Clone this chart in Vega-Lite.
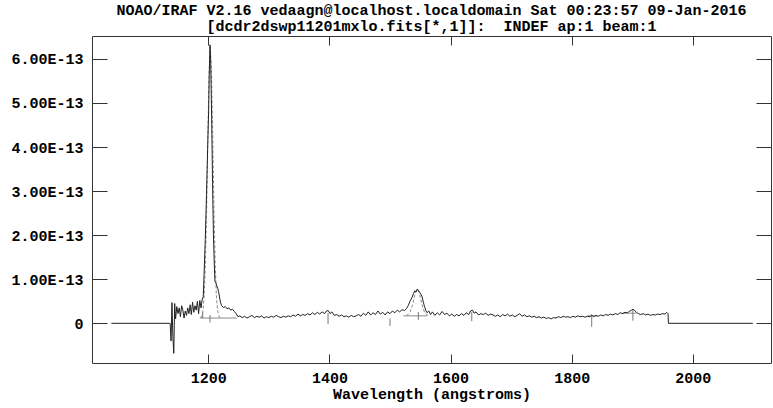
{
  "$schema": "https://vega.github.io/schema/vega-lite/v6.json",
  "width": 679,
  "height": 327,
  "autosize": {"type": "none"},
  "padding": {"left": 92, "top": 36, "right": 2, "bottom": 45},
  "title": {
    "text": ["NOAO/IRAF V2.16 vedaagn@localhost.localdomain Sat 00:23:57 09-Jan-2016", "[dcdr2dswp11201mxlo.fits[*,1]]: \u00a0INDEF ap:1 beam:1"],
    "anchor": "middle",
    "font": "Liberation Mono",
    "fontSize": 15,
    "fontWeight": "bold",
    "color": "#000",
    "lineHeight": 16,
    "offset": 2
  },
  "datasets": {
    "spec": [
      {"wl": 1040, "flux": 0}, {"wl": 1136, "flux": 0}, {"wl": 1137, "flux": 0},
      {"wl": 1138.5, "flux": -0.4}, {"wl": 1140, "flux": 0.47}, {"wl": 1141.5, "flux": -0.3}, {"wl": 1143, "flux": -0.68},
      {"wl": 1144.5, "flux": 0.45}, {"wl": 1146, "flux": 0.1}, {"wl": 1148, "flux": 0.38}, {"wl": 1150, "flux": 0.22},
      {"wl": 1152, "flux": 0.35}, {"wl": 1154, "flux": 0.15}, {"wl": 1156, "flux": 0.4}, {"wl": 1158, "flux": 0.3},
      {"wl": 1160, "flux": 0.12}, {"wl": 1162, "flux": 0.28}, {"wl": 1164, "flux": 0.18}, {"wl": 1166, "flux": 0.35},
      {"wl": 1168, "flux": 0.22}, {"wl": 1170, "flux": 0.42}, {"wl": 1172, "flux": 0.2}, {"wl": 1174, "flux": 0.48},
      {"wl": 1176, "flux": 0.25}, {"wl": 1178, "flux": 0.4}, {"wl": 1180, "flux": 0.3}, {"wl": 1182, "flux": 0.5},
      {"wl": 1184, "flux": 0.22}, {"wl": 1186, "flux": 0.52}, {"wl": 1188, "flux": 0.35}, {"wl": 1190, "flux": 0.55},
      {"wl": 1191.7, "flux": 0.6}, {"wl": 1193, "flux": 1.1}, {"wl": 1195, "flux": 1.9}, {"wl": 1197, "flux": 2.9},
      {"wl": 1199, "flux": 4.0}, {"wl": 1200.5, "flux": 4.8}, {"wl": 1201.5, "flux": 5.6}, {"wl": 1202.8, "flux": 6.32},
      {"wl": 1204, "flux": 5.9}, {"wl": 1205.5, "flux": 4.7}, {"wl": 1207, "flux": 3.2}, {"wl": 1208.5, "flux": 2.0},
      {"wl": 1210, "flux": 1.3}, {"wl": 1211, "flux": 0.95}, {"wl": 1212.5, "flux": 0.92}, {"wl": 1214, "flux": 0.85},
      {"wl": 1215.5, "flux": 0.8}, {"wl": 1217, "flux": 0.72}, {"wl": 1218.5, "flux": 0.6}, {"wl": 1220, "flux": 0.48},
      {"wl": 1222, "flux": 0.4}, {"wl": 1225, "flux": 0.36}, {"wl": 1228, "flux": 0.38}, {"wl": 1231, "flux": 0.33},
      {"wl": 1234, "flux": 0.35}, {"wl": 1237, "flux": 0.3}, {"wl": 1240, "flux": 0.32}, {"wl": 1243, "flux": 0.27},
      {"wl": 1246, "flux": 0.22}, {"wl": 1249, "flux": 0.15},
      {"wl": 1252, "flux": 0.17}, {"wl": 1256, "flux": 0.13}, {"wl": 1260, "flux": 0.16}, {"wl": 1264, "flux": 0.12},
      {"wl": 1268, "flux": 0.15}, {"wl": 1272, "flux": 0.18}, {"wl": 1276, "flux": 0.13}, {"wl": 1280, "flux": 0.16},
      {"wl": 1284, "flux": 0.14}, {"wl": 1288, "flux": 0.17}, {"wl": 1292, "flux": 0.12}, {"wl": 1296, "flux": 0.15},
      {"wl": 1300, "flux": 0.13}, {"wl": 1304, "flux": 0.16}, {"wl": 1308, "flux": 0.14}, {"wl": 1312, "flux": 0.18},
      {"wl": 1316, "flux": 0.15}, {"wl": 1320, "flux": 0.13}, {"wl": 1324, "flux": 0.16}, {"wl": 1328, "flux": 0.14},
      {"wl": 1332, "flux": 0.17}, {"wl": 1336, "flux": 0.15}, {"wl": 1340, "flux": 0.19}, {"wl": 1344, "flux": 0.16},
      {"wl": 1348, "flux": 0.21}, {"wl": 1352, "flux": 0.17}, {"wl": 1356, "flux": 0.2}, {"wl": 1360, "flux": 0.18},
      {"wl": 1364, "flux": 0.22}, {"wl": 1368, "flux": 0.19}, {"wl": 1372, "flux": 0.24}, {"wl": 1376, "flux": 0.2},
      {"wl": 1380, "flux": 0.25}, {"wl": 1384, "flux": 0.21}, {"wl": 1388, "flux": 0.26}, {"wl": 1392, "flux": 0.22},
      {"wl": 1395, "flux": 0.28}, {"wl": 1398, "flux": 0.29}, {"wl": 1401, "flux": 0.22}, {"wl": 1404, "flux": 0.26},
      {"wl": 1408, "flux": 0.18}, {"wl": 1412, "flux": 0.2}, {"wl": 1416, "flux": 0.16}, {"wl": 1420, "flux": 0.19},
      {"wl": 1424, "flux": 0.15}, {"wl": 1428, "flux": 0.17}, {"wl": 1432, "flux": 0.14}, {"wl": 1436, "flux": 0.18},
      {"wl": 1440, "flux": 0.15}, {"wl": 1444, "flux": 0.17}, {"wl": 1448, "flux": 0.2}, {"wl": 1452, "flux": 0.16},
      {"wl": 1456, "flux": 0.23}, {"wl": 1460, "flux": 0.18}, {"wl": 1464, "flux": 0.26}, {"wl": 1468, "flux": 0.19},
      {"wl": 1472, "flux": 0.24}, {"wl": 1476, "flux": 0.2}, {"wl": 1480, "flux": 0.28}, {"wl": 1484, "flux": 0.21},
      {"wl": 1488, "flux": 0.25}, {"wl": 1492, "flux": 0.19}, {"wl": 1496, "flux": 0.26}, {"wl": 1500, "flux": 0.22},
      {"wl": 1504, "flux": 0.28}, {"wl": 1508, "flux": 0.24}, {"wl": 1512, "flux": 0.3}, {"wl": 1516, "flux": 0.26},
      {"wl": 1520, "flux": 0.31}, {"wl": 1524, "flux": 0.29}, {"wl": 1527, "flux": 0.33}, {"wl": 1530, "flux": 0.4},
      {"wl": 1533, "flux": 0.5}, {"wl": 1536, "flux": 0.58}, {"wl": 1539, "flux": 0.68}, {"wl": 1541, "flux": 0.74},
      {"wl": 1543, "flux": 0.71}, {"wl": 1545, "flux": 0.78}, {"wl": 1547, "flux": 0.75}, {"wl": 1549, "flux": 0.7},
      {"wl": 1551, "flux": 0.66}, {"wl": 1553, "flux": 0.6}, {"wl": 1555, "flux": 0.48}, {"wl": 1557, "flux": 0.38},
      {"wl": 1559, "flux": 0.3}, {"wl": 1561, "flux": 0.24}, {"wl": 1564, "flux": 0.28}, {"wl": 1567, "flux": 0.2},
      {"wl": 1570, "flux": 0.26}, {"wl": 1574, "flux": 0.18}, {"wl": 1578, "flux": 0.24}, {"wl": 1582, "flux": 0.19},
      {"wl": 1586, "flux": 0.27}, {"wl": 1590, "flux": 0.2}, {"wl": 1594, "flux": 0.23}, {"wl": 1598, "flux": 0.17},
      {"wl": 1602, "flux": 0.21}, {"wl": 1606, "flux": 0.16}, {"wl": 1610, "flux": 0.2}, {"wl": 1614, "flux": 0.17},
      {"wl": 1618, "flux": 0.22}, {"wl": 1622, "flux": 0.18}, {"wl": 1626, "flux": 0.24}, {"wl": 1630, "flux": 0.2},
      {"wl": 1633, "flux": 0.28}, {"wl": 1636, "flux": 0.3}, {"wl": 1639, "flux": 0.23}, {"wl": 1642, "flux": 0.26},
      {"wl": 1646, "flux": 0.19}, {"wl": 1650, "flux": 0.22}, {"wl": 1654, "flux": 0.2}, {"wl": 1658, "flux": 0.23},
      {"wl": 1662, "flux": 0.18}, {"wl": 1666, "flux": 0.21}, {"wl": 1670, "flux": 0.19}, {"wl": 1674, "flux": 0.16},
      {"wl": 1678, "flux": 0.19}, {"wl": 1682, "flux": 0.15}, {"wl": 1686, "flux": 0.2}, {"wl": 1690, "flux": 0.17},
      {"wl": 1694, "flux": 0.21}, {"wl": 1698, "flux": 0.16}, {"wl": 1702, "flux": 0.19}, {"wl": 1706, "flux": 0.15},
      {"wl": 1710, "flux": 0.18}, {"wl": 1714, "flux": 0.22}, {"wl": 1718, "flux": 0.16}, {"wl": 1722, "flux": 0.19},
      {"wl": 1726, "flux": 0.15}, {"wl": 1730, "flux": 0.17}, {"wl": 1734, "flux": 0.14}, {"wl": 1738, "flux": 0.16},
      {"wl": 1742, "flux": 0.13}, {"wl": 1746, "flux": 0.15}, {"wl": 1750, "flux": 0.12}, {"wl": 1754, "flux": 0.14},
      {"wl": 1758, "flux": 0.11}, {"wl": 1762, "flux": 0.13}, {"wl": 1766, "flux": 0.1}, {"wl": 1770, "flux": 0.13},
      {"wl": 1774, "flux": 0.12}, {"wl": 1778, "flux": 0.15}, {"wl": 1782, "flux": 0.13}, {"wl": 1786, "flux": 0.16},
      {"wl": 1790, "flux": 0.14}, {"wl": 1794, "flux": 0.15}, {"wl": 1798, "flux": 0.13}, {"wl": 1802, "flux": 0.16},
      {"wl": 1806, "flux": 0.14}, {"wl": 1810, "flux": 0.17}, {"wl": 1814, "flux": 0.15}, {"wl": 1818, "flux": 0.16},
      {"wl": 1822, "flux": 0.14}, {"wl": 1826, "flux": 0.16}, {"wl": 1830, "flux": 0.15}, {"wl": 1833, "flux": 0.19},
      {"wl": 1836, "flux": 0.15}, {"wl": 1840, "flux": 0.18}, {"wl": 1844, "flux": 0.16}, {"wl": 1848, "flux": 0.19},
      {"wl": 1852, "flux": 0.17}, {"wl": 1856, "flux": 0.2}, {"wl": 1860, "flux": 0.18}, {"wl": 1864, "flux": 0.21},
      {"wl": 1868, "flux": 0.19}, {"wl": 1872, "flux": 0.22}, {"wl": 1876, "flux": 0.2}, {"wl": 1880, "flux": 0.24},
      {"wl": 1884, "flux": 0.22}, {"wl": 1888, "flux": 0.25}, {"wl": 1892, "flux": 0.24}, {"wl": 1896, "flux": 0.28},
      {"wl": 1899, "flux": 0.3}, {"wl": 1901, "flux": 0.32}, {"wl": 1904, "flux": 0.29}, {"wl": 1907, "flux": 0.25},
      {"wl": 1910, "flux": 0.22}, {"wl": 1914, "flux": 0.2}, {"wl": 1918, "flux": 0.22}, {"wl": 1922, "flux": 0.19},
      {"wl": 1926, "flux": 0.21}, {"wl": 1930, "flux": 0.18}, {"wl": 1934, "flux": 0.2}, {"wl": 1938, "flux": 0.19},
      {"wl": 1942, "flux": 0.21}, {"wl": 1946, "flux": 0.2}, {"wl": 1950, "flux": 0.22}, {"wl": 1954, "flux": 0.21},
      {"wl": 1957, "flux": 0.25}, {"wl": 1959, "flux": 0.22}, {"wl": 1959.6, "flux": 0}, {"wl": 2099, "flux": 0}
    ],
    "fits": [
      {"fit": "Lya", "wl": 1187.3, "flux": 0.12}, {"fit": "Lya", "wl": 1189.3, "flux": 0.17}, {"fit": "Lya", "wl": 1191.3, "flux": 0.3},
      {"fit": "Lya", "wl": 1193.3, "flux": 0.64}, {"fit": "Lya", "wl": 1195.3, "flux": 1.39}, {"fit": "Lya", "wl": 1197.3, "flux": 2.65},
      {"fit": "Lya", "wl": 1199.3, "flux": 4.26}, {"fit": "Lya", "wl": 1201.3, "flux": 5.69}, {"fit": "Lya", "wl": 1203.3, "flux": 6.27},
      {"fit": "Lya", "wl": 1205.3, "flux": 5.69}, {"fit": "Lya", "wl": 1207.3, "flux": 4.26}, {"fit": "Lya", "wl": 1209.3, "flux": 2.65},
      {"fit": "Lya", "wl": 1211.3, "flux": 1.39}, {"fit": "Lya", "wl": 1213.3, "flux": 0.64}, {"fit": "Lya", "wl": 1215.3, "flux": 0.3},
      {"fit": "Lya", "wl": 1217.3, "flux": 0.17}, {"fit": "Lya", "wl": 1219.3, "flux": 0.12},
      {"fit": "CIV", "wl": 1527, "flux": 0.18}, {"fit": "CIV", "wl": 1530, "flux": 0.2}, {"fit": "CIV", "wl": 1533, "flux": 0.25},
      {"fit": "CIV", "wl": 1536, "flux": 0.37}, {"fit": "CIV", "wl": 1539, "flux": 0.53}, {"fit": "CIV", "wl": 1542, "flux": 0.7},
      {"fit": "CIV", "wl": 1545, "flux": 0.77}, {"fit": "CIV", "wl": 1548, "flux": 0.7}, {"fit": "CIV", "wl": 1551, "flux": 0.53},
      {"fit": "CIV", "wl": 1554, "flux": 0.37}, {"fit": "CIV", "wl": 1557, "flux": 0.25}, {"fit": "CIV", "wl": 1560, "flux": 0.2},
      {"fit": "CIV", "wl": 1563, "flux": 0.18}
    ],
    "hlines": [
      {"wl": 1186, "wl2": 1247, "flux": 0.12},
      {"wl": 1522, "wl2": 1561, "flux": 0.17},
      {"wl": 1826, "wl2": 1842, "flux": 0.17},
      {"wl": 1883, "wl2": 1907, "flux": 0.23}
    ],
    "vmarks": [
      {"wl": 1190.8, "flux": 0.26, "flux2": 0.11},
      {"wl": 1202.8, "flux": 0.19, "flux2": 0.02},
      {"wl": 1397.7, "flux": 0.23, "flux2": -0.02},
      {"wl": 1500, "flux": 0.11, "flux2": -0.06},
      {"wl": 1546.8, "flux": 0.26, "flux2": 0.08},
      {"wl": 1635, "flux": 0.26, "flux2": 0.05},
      {"wl": 1833, "flux": 0.19, "flux2": -0.08},
      {"wl": 1901, "flux": 0.32, "flux2": 0.06}
    ]
  },
  "resolve": {"axis": {"x": "independent", "y": "independent"}},
  "layer": [
    {
      "data": {"name": "fits"},
      "mark": {"type": "line", "color": "#8a8a8a", "strokeWidth": 1, "strokeDash": [3, 2]},
      "encoding": {
        "x": {"field": "wl", "type": "quantitative", "scale": {"domain": [1008, 2129], "nice": false, "zero": false},
              "axis": {"orient": "top", "labels": false, "title": null, "values": [1200, 1400, 1600, 1800, 2000], "tickSize": -9, "domain": false}},
        "y": {"field": "flux", "type": "quantitative", "scale": {"domain": [-0.9, 6.52], "nice": false, "zero": false},
              "axis": {"orient": "right", "labels": false, "title": null, "values": [0, 1, 2, 3, 4, 5, 6], "tickSize": -15, "domain": false}},
        "detail": {"field": "fit"}
      }
    },
    {
      "data": {"name": "hlines"},
      "mark": {"type": "rule", "color": "#8a8a8a", "strokeWidth": 1},
      "encoding": {
        "x": {"field": "wl", "type": "quantitative", "scale": {"domain": [1008, 2129], "nice": false, "zero": false}, "axis": null},
        "x2": {"field": "wl2"},
        "y": {"field": "flux", "type": "quantitative", "scale": {"domain": [-0.9, 6.52], "nice": false, "zero": false}, "axis": null}
      }
    },
    {
      "data": {"name": "vmarks"},
      "mark": {"type": "rule", "color": "#777", "strokeWidth": 1},
      "encoding": {
        "x": {"field": "wl", "type": "quantitative", "scale": {"domain": [1008, 2129], "nice": false, "zero": false}, "axis": null},
        "y": {"field": "flux", "type": "quantitative", "scale": {"domain": [-0.9, 6.52], "nice": false, "zero": false}, "axis": null},
        "y2": {"field": "flux2"}
      }
    },
    {
      "data": {"name": "spec"},
      "mark": {"type": "line", "color": "#222", "strokeWidth": 1},
      "encoding": {
        "x": {"field": "wl", "type": "quantitative", "scale": {"domain": [1008, 2129], "nice": false, "zero": false},
              "axis": {"orient": "bottom", "title": "Wavelength (angstroms)", "values": [1200, 1400, 1600, 1800, 2000], "format": "d", "tickSize": -9, "labelPadding": 16, "titlePadding": 1, "domain": false, "labelFlush": false}},
        "y": {"field": "flux", "type": "quantitative", "scale": {"domain": [-0.9, 6.52], "nice": false, "zero": false},
              "axis": {"orient": "left", "title": null, "values": [0, 1, 2, 3, 4, 5, 6], "tickSize": -15, "labelPadding": 24, "domain": false,
                       "labelExpr": "datum.value == 0 ? '0' : format(datum.value, '.2f') + 'E-13'"}}
      }
    }
  ],
  "config": {
    "view": {"stroke": "#333", "strokeWidth": 1},
    "axis": {
      "grid": false,
      "tickColor": "#333",
      "tickWidth": 1,
      "labelFont": "Liberation Mono",
      "labelFontSize": 15,
      "labelFontWeight": "bold",
      "labelColor": "#000",
      "titleFont": "Liberation Mono",
      "titleFontSize": 15,
      "titleFontWeight": "bold",
      "titleColor": "#000"
    }
  }
}
